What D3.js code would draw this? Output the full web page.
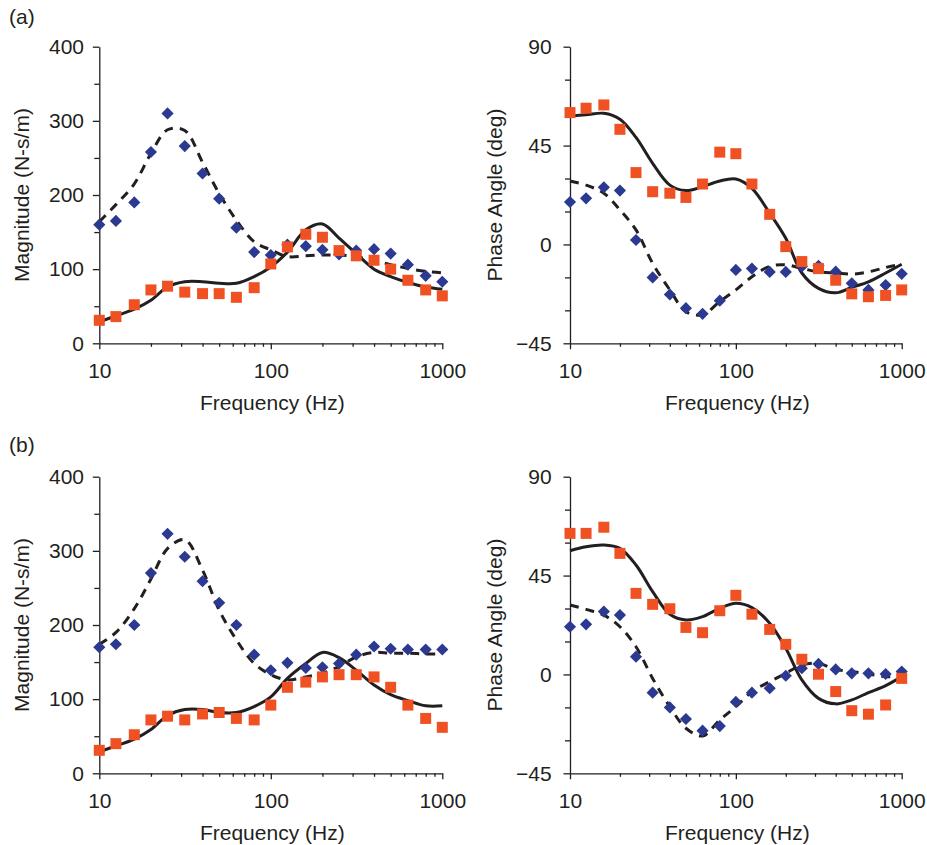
<!DOCTYPE html>
<html>
<head>
<meta charset="utf-8">
<script src="https://cdn.jsdelivr.net/npm/d3@7/dist/d3.min.js"></script>
<style>
  html, body { margin: 0; padding: 0; background: #fff; }
  svg { display: block; }
  text { font-family: "Liberation Sans", Arial, Helvetica, sans-serif; fill: #231f20; }
</style>
</head>
<body>
<svg id="chart" width="927" height="845"></svg>
<script>
// ---------- data ----------
const freqs = [10, 12.5, 16, 20, 25, 31.5, 40, 50, 63, 80, 100, 125, 160, 200, 250, 315, 400, 500, 630, 800, 1000];
const xTickLabels = [10, 100, 1000];
const xMinorTicks = [20, 30, 40, 50, 60, 70, 80, 90, 200, 300, 400, 500, 600, 700, 800, 900];

const magTicks = [0, 100, 200, 300, 400];
const magMinorTicks = [50, 150, 250, 350];
const phaseTicks = [-45, 0, 45, 90];
const phaseMinorTicks = [-30, -15, 15, 30, 60, 75];

// (a) magnitude
const aMagBlue   = [160, 165, 190, 258, 310, 266, 229, 195, 156, 123, 119, 133, 131, 126, 120, 125, 127, 121, 106, 91, 83];
const aMagOrange = [31, 36, 52, 72, 77, 69, 67, 67, 62, 75, 107, 130, 147, 143, 125, 118, 112, 100, 85, 72, 64];
const aMagSolid  = [29, 37, 46, 58, 76, 83, 83, 81, 81, 90, 103, 123, 153, 161, 142, 121, 100, 90, 82, 76, 73];
const aMagDashed = [164, 187, 215, 256, 288, 287, 244, 202, 166, 137, 126, 117, 118, 119, 119, 117, 112, 106, 101, 97, 95];

// (a) phase
const aPhBlue   = [19.3, 21, 26, 24.5, 2, -15, -22.8, -29, -31.6, -25.6, -11.6, -11, -12.5, -12.5, -10, -9.7, -12.4, -17.7, -20.7, -18.5, -13.4];
const aPhOrange = [60, 62, 63.5, 52.4, 32.7, 24, 23.3, 21.4, 27.5, 42, 41.3, 27.5, 13.7, -1, -7.8, -11, -16.3, -22.5, -23.8, -23.2, -20.7];
const aPhSolid  = [58.5, 59, 59.7, 57, 48.7, 36.9, 27, 24.5, 26.3, 28.9, 29.8, 25.5, 14.2, 2.8, -13, -20, -22, -19.5, -17, -13, -9];
const aPhDashed = [28.9, 27, 23.3, 15.7, 6.6, -8.6, -20.7, -30.6, -32, -26, -20.7, -14.7, -10, -9.3, -10.9, -12.5, -13, -13.5, -12.5, -10.5, -9];

// (b) magnitude
const bMagBlue   = [170, 174, 200, 270, 323, 292, 259, 230, 200, 160, 139, 149, 142, 143, 148, 160, 171, 168, 167, 167, 167];
const bMagOrange = [31, 40, 52, 72, 77, 72, 80, 82, 74, 72, 92, 116, 123, 130, 133, 133, 130, 116, 92, 74, 62];
const bMagSolid  = [29, 37, 46, 59, 78, 86, 86, 82, 82, 90, 103, 128, 148, 163, 156, 139, 119, 106, 98, 91, 91];
const bMagDashed = [174, 190, 222, 262, 303, 315, 274, 220, 180, 148, 133, 126, 130, 135, 144, 157, 163, 162, 162, 161, 161];

// (b) phase
const bPhBlue   = [21.7, 22.8, 28.6, 27, 8.1, -8.3, -15, -20.3, -25.6, -23.5, -12.5, -8.3, -6.3, -0.6, 2.8, 4.8, 2.3, 0.5, 0.5, 0.2, 1.3];
const bPhOrange = [64.2, 64.2, 67, 55.1, 36.9, 31.9, 29.9, 21.4, 19, 29, 36, 27.4, 20.5, 13.7, 6.9, 0.1, -7.8, -16.5, -18.1, -13.9, -1.8];
const bPhSolid  = [56.3, 58.1, 58.9, 57.4, 49.8, 37.7, 27.4, 24.8, 26.3, 30.1, 32.4, 30.4, 23.3, 11.9, -2.5, -10.9, -13.4, -11.6, -8.3, -5.1, -1];
const bPhDashed = [31.6, 29.6, 27, 21.7, 12.6, -1.8, -14.7, -24.5, -28, -20.7, -14.7, -7.8, -3.3, 0.5, 4.3, 5, 2.3, 1.3, 0.2, -1, -1];

const xTitle = "Frequency (Hz)";
const magTitle = "Magnitude (N-s/m)";
const phaseTitle = "Phase Angle (deg)";
const panelLabels = ["(a)", "(b)"];

// ---------- style / layout ----------
const INK = "#231f20";
const BLUE = "#2b3990";
const ORANGE = "#f05123";
const FONT = 21;

const panels = [
  { left: 99.3, right: 442.3, top: 46.7, bottom: 343.3, domain: [0, 400], ticks: magTicks, minor: magMinorTicks, title: magTitle, titleX: 29, yPad: 8.8,
    blue: aMagBlue, orange: aMagOrange, solid: aMagSolid, dashed: aMagDashed },
  { left: 570, right: 901.7, top: 46.7, bottom: 343.3, domain: [-45, 90], ticks: phaseTicks, minor: phaseMinorTicks, title: phaseTitle, titleX: 502, yPad: 11.8,
    blue: aPhBlue, orange: aPhOrange, solid: aPhSolid, dashed: aPhDashed },
  { left: 99.3, right: 442.3, top: 476.7, bottom: 773.3, domain: [0, 400], ticks: magTicks, minor: magMinorTicks, title: magTitle, titleX: 29, yPad: 8.8,
    blue: bMagBlue, orange: bMagOrange, solid: bMagSolid, dashed: bMagDashed },
  { left: 570, right: 901.7, top: 476.7, bottom: 773.3, domain: [-45, 90], ticks: phaseTicks, minor: phaseMinorTicks, title: phaseTitle, titleX: 502, yPad: 11.8,
    blue: bPhBlue, orange: bPhOrange, solid: bPhSolid, dashed: bPhDashed }
];

const svg = d3.select("#chart");
svg.append("rect").attr("width", 927).attr("height", 845).attr("fill", "#fff");

function styleAxis(g) {
  g.attr("font-size", null).attr("font-family", null);
  g.selectAll("path, line").attr("stroke", INK).attr("stroke-width", 1.3);
  g.selectAll("text").attr("font-size", FONT).attr("fill", INK);
}

panels.forEach(p => {
  const x = d3.scaleLog().domain([10, 1000]).range([p.left, p.right]);
  const y = d3.scaleLinear().domain(p.domain).range([p.bottom, p.top]);
  const g = svg.append("g");

  // minor x ticks
  g.append("g").attr("transform", `translate(0,${p.bottom})`)
    .call(d3.axisBottom(x).tickValues(xMinorTicks).tickSize(3.5).tickFormat(""))
    .call(a => a.select(".domain").remove())
    .call(styleAxis);
  // major x ticks
  g.append("g").attr("transform", `translate(0,${p.bottom})`)
    .call(d3.axisBottom(x).tickValues(xTickLabels).tickFormat(d3.format("d")).tickSize(6).tickSizeOuter(0).tickPadding(13.8))
    .call(styleAxis);
  // minor y ticks
  g.append("g").attr("transform", `translate(${p.left},0)`)
    .call(d3.axisLeft(y).tickValues(p.minor).tickSize(5).tickFormat(""))
    .call(a => a.select(".domain").remove())
    .call(styleAxis);
  // major y ticks
  g.append("g").attr("transform", `translate(${p.left},0)`)
    .call(d3.axisLeft(y).tickValues(p.ticks).tickFormat(d3.format("d")).tickSize(6.5).tickSizeOuter(0).tickPadding(p.yPad))
    .call(styleAxis);

  // titles
  g.append("text").attr("x", (p.left + p.right) / 2 + 1.5).attr("y", p.bottom + 66.7)
    .attr("text-anchor", "middle").attr("font-size", FONT).text(xTitle);
  g.append("text").attr("transform", `translate(${p.titleX},${(p.top + p.bottom) / 2}) rotate(-90)`)
    .attr("text-anchor", "middle").attr("font-size", FONT).text(p.title);

  const line = key => d3.line()
    .x((d, i) => x(freqs[i]))
    .y(d => y(d))
    .curve(d3.curveCatmullRom.alpha(0.5));

  g.append("path").datum(p.dashed).attr("d", line()).attr("fill", "none")
    .attr("stroke", INK).attr("stroke-width", 3).attr("stroke-dasharray", "9,7");
  g.append("path").datum(p.solid).attr("d", line()).attr("fill", "none")
    .attr("stroke", INK).attr("stroke-width", 3);

  const diamond = d3.symbol().type(d3.symbolSquare).size(74);
  g.append("g").selectAll("path").data(p.blue).join("path")
    .attr("d", diamond)
    .attr("transform", (d, i) => `translate(${x(freqs[i])},${y(d)}) rotate(45)`)
    .attr("fill", BLUE);

  const square = d3.symbol().type(d3.symbolSquare).size(121);
  g.append("g").selectAll("path").data(p.orange).join("path")
    .attr("d", square)
    .attr("transform", (d, i) => `translate(${x(freqs[i])},${y(d)})`)
    .attr("fill", ORANGE);
});

// panel labels
svg.append("text").attr("x", 9).attr("y", 24).attr("font-size", FONT).text(panelLabels[0]);
svg.append("text").attr("x", 9).attr("y", 452).attr("font-size", FONT).text(panelLabels[1]);
</script>
</body>
</html>
